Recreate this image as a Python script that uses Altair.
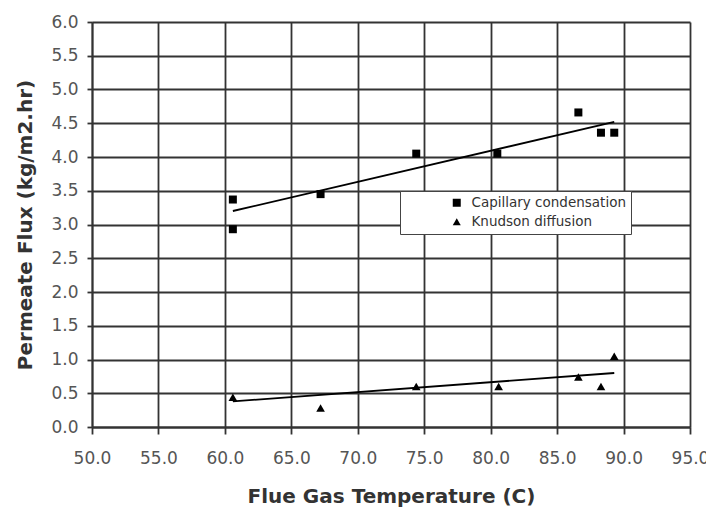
import altair as alt
import pandas as pd

# Capillary condensation (squares)
cap_x = [60.6, 60.6, 67.2, 74.4, 80.5, 86.6, 88.3, 89.3]
cap_y = [3.37, 2.93, 3.45, 4.05, 4.05, 4.66, 4.36, 4.36]
# Knudson diffusion (triangles)
knu_x = [60.6, 67.2, 74.4, 80.6, 86.6, 88.3, 89.3]
knu_y = [0.44, 0.28, 0.60, 0.60, 0.74, 0.60, 1.05]
# Trend lines (end points)
cap_trend_x = [60.6, 89.3]
cap_trend_y = [3.20, 4.52]
knu_trend_x = [60.6, 89.3]
knu_trend_y = [0.38, 0.80]

series_names = ["Capillary condensation", "Knudson diffusion"]
x_ticks = [50, 55, 60, 65, 70, 75, 80, 85, 90, 95]
y_ticks = [0, 0.5, 1, 1.5, 2, 2.5, 3, 3.5, 4, 4.5, 5, 5.5, 6]

cap_df = pd.DataFrame({"x": cap_x, "y": cap_y, "series": series_names[0]})
knu_df = pd.DataFrame({"x": knu_x, "y": knu_y, "series": series_names[1]})
trend = pd.DataFrame({
    "x": cap_trend_x + knu_trend_x,
    "y": cap_trend_y + knu_trend_y,
    "series": [series_names[0]] * 2 + [series_names[1]] * 2,
})

grid_col = "#333333"
xs = alt.Scale(domain=[50, 95], nice=False, zero=False)
ys = alt.Scale(domain=[0, 6], nice=False)

x_axis = alt.Axis(values=x_ticks, format=".1f", title="Flue Gas Temperature (C)",
                  grid=True, gridColor=grid_col, gridWidth=1.8, gridOpacity=1,
                  domainColor=grid_col, domainWidth=1.8, tickColor=grid_col,
                  tickWidth=1.8, tickSize=7, labelPadding=16, labelFlush=False,
                  labelOverlap=False,
                  labelFont="DejaVu Sans", labelFontSize=17, labelColor="#555555",
                  titleFont="DejaVu Sans", titleFontSize=20, titleFontWeight="bold",
                  titleColor="#333333", titlePadding=20)
y_axis = alt.Axis(values=y_ticks, format=".1f", title="Permeate Flux (kg/m2.hr)",
                  grid=True, gridColor=grid_col, gridWidth=1.8, gridOpacity=1,
                  domainColor=grid_col, domainWidth=1.8, tickColor=grid_col,
                  tickWidth=1.8, tickSize=5, labelPadding=9, labelFlush=False,
                  labelOverlap=False,
                  labelFont="DejaVu Sans", labelFontSize=17, labelColor="#555555",
                  titleFont="DejaVu Sans", titleFontSize=20, titleFontWeight="bold",
                  titleColor="#333333", titlePadding=15)

shape_scale = alt.Scale(domain=series_names, range=["square", "triangle-up"])
legend = alt.Legend(title=None, orient="none", legendX=308, legendY=169,
                    fillColor="white", strokeColor="#444444",
                    padding=5, symbolOffset=45, labelOffset=8,
                    symbolSize=64, symbolFillColor="black",
                    symbolStrokeColor="black", rowPadding=4,
                    labelFont="DejaVu Sans", labelFontSize=13.5,
                    labelColor="#333333", labelLimit=300)

def enc(chart, with_shape=True):
    e = dict(
        x=alt.X("x:Q", scale=xs, axis=x_axis),
        y=alt.Y("y:Q", scale=ys, axis=y_axis),
    )
    if with_shape:
        e["shape"] = alt.Shape("series:N", scale=shape_scale, legend=legend)
    return chart.encode(**e)

lines = enc(alt.Chart(trend).mark_line(color="black", strokeWidth=1.8), False).encode(
    detail="series:N")
squares = enc(alt.Chart(cap_df).mark_point(filled=True, opacity=1, color="black", size=64))
triangles = enc(alt.Chart(knu_df).mark_point(filled=True, opacity=1, color="black", size=75))

chart = alt.layer(lines, squares, triangles).properties(
    width=598, height=405,
    autosize=alt.AutoSizeParams(type="none"),
    padding={"left": 84, "top": 14, "right": 16, "bottom": 80},
    background="white",
).configure_view(stroke=None)

chart.save("out.html", embed_options={"renderer": "svg", "actions": False})
